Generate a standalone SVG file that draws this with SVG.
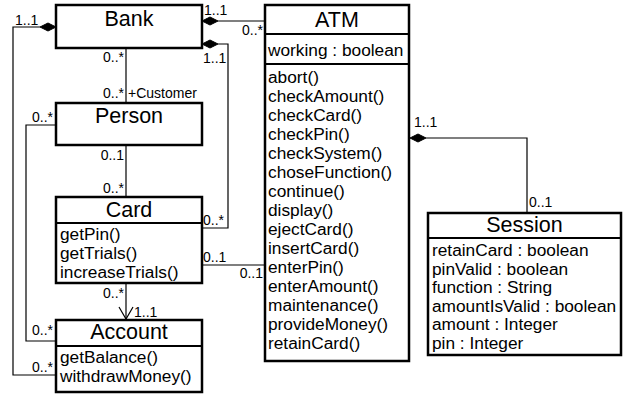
<svg xmlns="http://www.w3.org/2000/svg" width="625" height="395" viewBox="0 0 625 395">
<style>
text{font-family:"Liberation Sans",Arial,sans-serif;fill:#000}
.box{fill:#fff;stroke:#000;stroke-width:2.5}
.div{stroke:#000;stroke-width:2}
.t{font-size:21.5px;text-anchor:middle}
.b{font-size:17.3px}
.l{font-size:14px}
.e{text-anchor:end}
.c{fill:none;stroke:#000;stroke-width:1.2}
.dm{fill:#000;stroke:#000;stroke-width:1}
</style>
<rect width="625" height="395" fill="#fff"/>
<g id="connectors">
<path class="c" d="M218,21 H265"/>
<path class="dm" d="M202,21 L210,17 L218,21 L210,25 Z"/>
<path class="c" d="M218,44 H228 V228 H202"/>
<path class="dm" d="M202,44 L210,40 L218,44 L210,48 Z"/>
<path class="c" d="M126,48 V103"/>
<path class="c" d="M40,27 H13 V375 H56"/>
<path class="dm" d="M56,27 L48,23 L40,27 L48,31 Z"/>
<path class="c" d="M56,125 H26 V341 H56"/>
<path class="c" d="M126,145 V197"/>
<path class="c" d="M126,283 V319"/>
<path class="c" d="M119,307 L126,319 L133,307"/>
<path class="c" d="M202,265 H265"/>
<path class="c" d="M426,138 H527 V213"/>
<path class="dm" d="M410,138 L418,134 L426,138 L418,142 Z"/>
<text class="l" x="204" y="15">1..1</text>
<text class="l e" x="263" y="35">0..*</text>
<text class="l" x="203" y="63">1..1</text>
<text class="l" x="203" y="225">0..*</text>
<text class="l e" x="124" y="62">0..*</text>
<text class="l e" x="124" y="98">0..*</text>
<text class="l" x="128" y="98">+Customer</text>
<text class="l" x="15" y="25">1..1</text>
<text class="l" x="32" y="372">0..*</text>
<text class="l" x="32" y="122">0..*</text>
<text class="l" x="32" y="335">0..*</text>
<text class="l e" x="124" y="160">0..1</text>
<text class="l e" x="124" y="193">0..*</text>
<text class="l" x="203" y="262">0..1</text>
<text class="l e" x="263" y="278">0..1</text>
<text class="l e" x="124" y="298">0..*</text>
<text class="l" x="134" y="317">1..1</text>
<text class="l" x="414" y="127">1..1</text>
<text class="l" x="529" y="207">0..1</text>
</g>
<g id="Bank">
<rect class="box" x="56" y="5" width="146" height="43"/>
<text class="t" x="129" y="26">Bank</text>
</g>
<g id="ATM">
<rect class="box" x="265" y="5" width="144" height="356"/>
<line class="div" x1="265" y1="34" x2="409" y2="34"/>
<line class="div" x1="265" y1="64" x2="409" y2="64"/>
<text class="t" x="337" y="27">ATM</text>
<text class="b" x="268" y="56">working : boolean</text>
<text class="b" x="268" y="83">abort()</text>
<text class="b" x="268" y="102">checkAmount()</text>
<text class="b" x="268" y="121">checkCard()</text>
<text class="b" x="268" y="140">checkPin()</text>
<text class="b" x="268" y="159">checkSystem()</text>
<text class="b" x="268" y="178">choseFunction()</text>
<text class="b" x="268" y="197">continue()</text>
<text class="b" x="268" y="216">display()</text>
<text class="b" x="268" y="235">ejectCard()</text>
<text class="b" x="268" y="254">insertCard()</text>
<text class="b" x="268" y="273">enterPin()</text>
<text class="b" x="268" y="292">enterAmount()</text>
<text class="b" x="268" y="311">maintenance()</text>
<text class="b" x="268" y="330">provideMoney()</text>
<text class="b" x="268" y="349">retainCard()</text>
</g>
<g id="Person">
<rect class="box" x="56" y="103" width="146" height="42"/>
<text class="t" x="129" y="123">Person</text>
</g>
<g id="Card">
<rect class="box" x="56" y="197" width="146" height="86"/>
<line class="div" x1="56" y1="223" x2="202" y2="223"/>
<text class="t" x="129" y="217">Card</text>
<text class="b" x="60" y="240">getPin()</text>
<text class="b" x="60" y="259">getTrials()</text>
<text class="b" x="60" y="278">increaseTrials()</text>
</g>
<g id="Account">
<rect class="box" x="56" y="320" width="146" height="72"/>
<line class="div" x1="56" y1="346" x2="202" y2="346"/>
<text class="t" x="129" y="339">Account</text>
<text class="b" x="60" y="363">getBalance()</text>
<text class="b" x="60" y="382">withdrawMoney()</text>
</g>
<g id="Session">
<rect class="box" x="428" y="213" width="193" height="142"/>
<line class="div" x1="428" y1="238" x2="621" y2="238"/>
<text class="t" x="524.5" y="232">Session</text>
<text class="b" x="432" y="256">retainCard : boolean</text>
<text class="b" x="432" y="274.6">pinValid : boolean</text>
<text class="b" x="432" y="293.2">function : String</text>
<text class="b" x="432" y="311.8">amountIsValid : boolean</text>
<text class="b" x="432" y="330.4">amount : Integer</text>
<text class="b" x="432" y="349">pin : Integer</text>
</g>
</svg>
